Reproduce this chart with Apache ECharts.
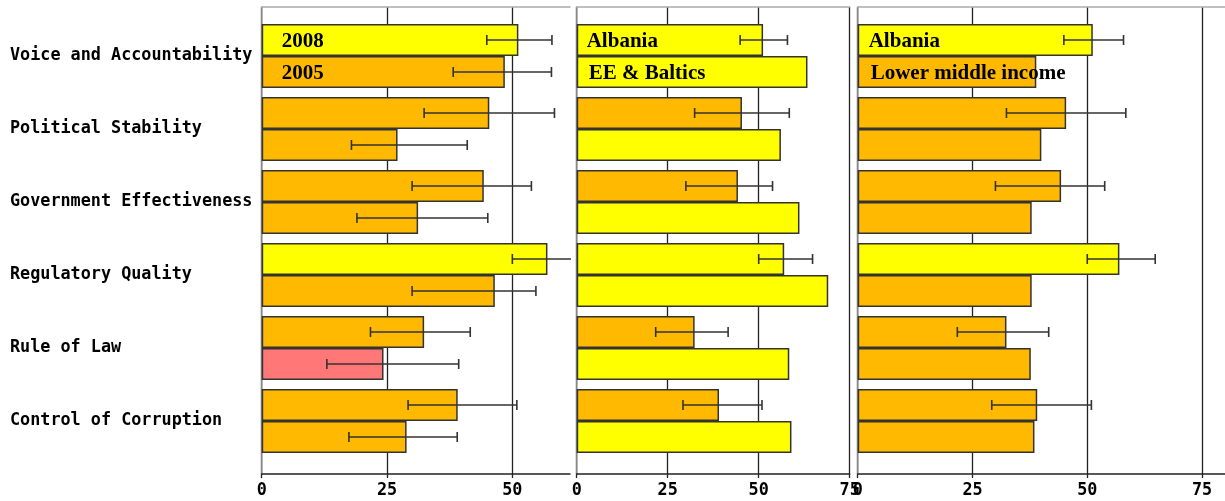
<!DOCTYPE html>
<html>
<head>
<meta charset="utf-8">
<script src="https://cdn.jsdelivr.net/npm/echarts@6/dist/echarts.min.js"></script>
<style>html,body{margin:0;padding:0;background:#fff}#c{width:1225px;height:501px}</style>
</head>
<body>
<div id="c"></div>
<script>
const categories = ['Voice and Accountability', 'Political Stability', 'Government Effectiveness', 'Regulatory Quality', 'Rule of Law', 'Control of Corruption'];
const albania2008 = [51.2, 45.4, 44.3, 57.0, 32.4, 39.1];
const err2008Low = [44.9, 32.4, 30.0, 50.0, 21.7, 29.2];
const err2008High = [57.9, 58.4, 53.8, 64.8, 41.6, 50.9];
const albania2005 = [48.5, 27.1, 31.2, 46.5, 24.3, 28.9];
const err2005Low = [38.2, 17.9, 19.0, 30.0, 13.0, 17.4];
const err2005High = [57.8, 41.0, 45.1, 54.7, 39.3, 39.0];
const eeBaltics = [63.4, 56.1, 61.2, 69.1, 58.4, 59.0];
const lowerMiddle = [38.9, 40.0, 37.9, 37.9, 37.7, 38.5];
const ticks1 = [0, 25, 50];
const ticks2 = [0, 25, 50, 75];
const ticks3 = [0, 25, 50, 75];

const BAR_W = 32;
const MONO = 'DejaVu Sans Mono';
function colorFor(v) { return v < 25 ? '#FF7777' : (v < 50 ? '#FFB900' : '#FFFF00'); }

const panels = [
  { left: 261.7, width: 308.3, max: 61.5, ticks: ticks1, topName: '2008', botName: '2005', top: albania2008, bot: albania2005,
    errTop: [err2008Low, err2008High], errBot: [err2005Low, err2005High], dist: 20, showCats: true },
  { left: 576.7, width: 273, max: 75, ticks: ticks2, topName: 'Albania', botName: 'EE & Baltics', top: albania2008, bot: eeBaltics,
    errTop: [err2008Low, err2008High], errBot: null, dist: 10, distBot: 12 },
  { left: 857.7, width: 370.4, max: 80, ticks: ticks3, topName: 'Albania', botName: 'Lower middle income', top: albania2008, bot: lowerMiddle,
    errTop: [err2008Low, err2008High], errBot: null, dist: 11, distBot: 13 }
];

const grid = [], xAxis = [], yAxis = [], series = [];

function barData(vals, name, dist) {
  return vals.map((v, i) => {
    const d = { value: v, itemStyle: { color: colorFor(v) } };
    if (i === 0) d.label = { show: true, position: 'insideLeft', distance: dist, offset: [0, 2], formatter: name,
      fontFamily: 'Liberation Serif', fontWeight: 'bold', fontSize: 21, color: '#000' };
    return d;
  });
}

function errRender(params, api) {
  const row = api.value(0), lo = api.value(1), hi = api.value(2), side = api.value(3);
  const a = api.coord([lo, row]);
  const b = api.coord([hi, row]);
  const y = a[1] + side * BAR_W / 2;
  const st = { stroke: '#333', lineWidth: 1.6 };
  return { type: 'group', children: [
    { type: 'line', shape: { x1: a[0], y1: y, x2: b[0], y2: y }, style: st },
    { type: 'line', shape: { x1: a[0], y1: y - 5, x2: a[0], y2: y + 5 }, style: st },
    { type: 'line', shape: { x1: b[0], y1: y - 5, x2: b[0], y2: y + 5 }, style: st }
  ] };
}

panels.forEach((p, k) => {
  const gF = grid.length;
  grid.push({ left: p.left, width: p.width, top: 7, height: 467 });
  const gB = grid.length;
  grid.push({ left: p.left, width: p.width, top: 19.5, height: 438 });

  // frame axes
  xAxis.push({ type: 'value', gridIndex: gF, min: 0, max: p.max, position: 'bottom',
    axisLine: { show: true, lineStyle: { color: '#222', width: 1.5 } },
    axisTick: { show: true, length: 4, customValues: p.ticks, lineStyle: { color: '#222', width: 1.3 } },
    splitLine: { show: true, lineStyle: { color: '#222', width: 1.3 } },
    axisLabel: { customValues: p.ticks, margin: 8, fontFamily: MONO, fontWeight: 'bold', fontSize: 16.8, color: '#000' } });
  xAxis.push({ type: 'value', gridIndex: gF, min: 0, max: p.max, position: 'top',
    axisLine: { show: true, lineStyle: { color: '#aaa', width: 1.5 } },
    axisTick: { show: false }, splitLine: { show: false }, axisLabel: { show: false } });
  yAxis.push({ type: 'value', gridIndex: gF, min: 0, max: 1,
    axisLine: { show: true, lineStyle: { color: '#aaa', width: 1.5 } },
    axisTick: { show: false }, splitLine: { show: false }, axisLabel: { show: false } });

  // bar axes
  const xB = xAxis.length;
  xAxis.push({ type: 'value', gridIndex: gB, min: 0, max: p.max, show: false });
  const yB = yAxis.length;
  yAxis.push({ type: 'category', gridIndex: gB, data: categories, inverse: true,
    axisLine: { show: false }, axisTick: { show: false }, splitLine: { show: false },
    axisLabel: { show: !!p.showCats, align: 'left', margin: p.left - 10, padding: [0, 0, 4, 0],
      fontFamily: MONO, fontWeight: 'bold', fontSize: 16.8, color: '#000' } });

  const barCommon = { type: 'bar', xAxisIndex: xB, yAxisIndex: yB, barWidth: BAR_W, barGap: '0%', animation: false,
    itemStyle: { borderColor: '#333', borderWidth: 1.5 } };
  series.push(Object.assign({}, barCommon, { name: p.topName, data: barData(p.top, p.topName, p.dist) }));
  series.push(Object.assign({}, barCommon, { name: p.botName, data: barData(p.bot, p.botName, p.distBot || p.dist) }));

  const errs = [];
  categories.forEach((c, i) => {
    errs.push([i, p.errTop[0][i], p.errTop[1][i], -1]);
    if (p.errBot) errs.push([i, p.errBot[0][i], p.errBot[1][i], 1]);
  });
  series.push({ type: 'custom', xAxisIndex: xB, yAxisIndex: yB, renderItem: errRender, clip: true, z: 5, animation: false,
    encode: { x: [1, 2], y: 0 }, data: errs });
});

const chart = echarts.init(document.getElementById('c'), null, { renderer: 'canvas' });
chart.setOption({ backgroundColor: '#fff', animation: false, grid, xAxis, yAxis, series });
</script>
</body>
</html>
